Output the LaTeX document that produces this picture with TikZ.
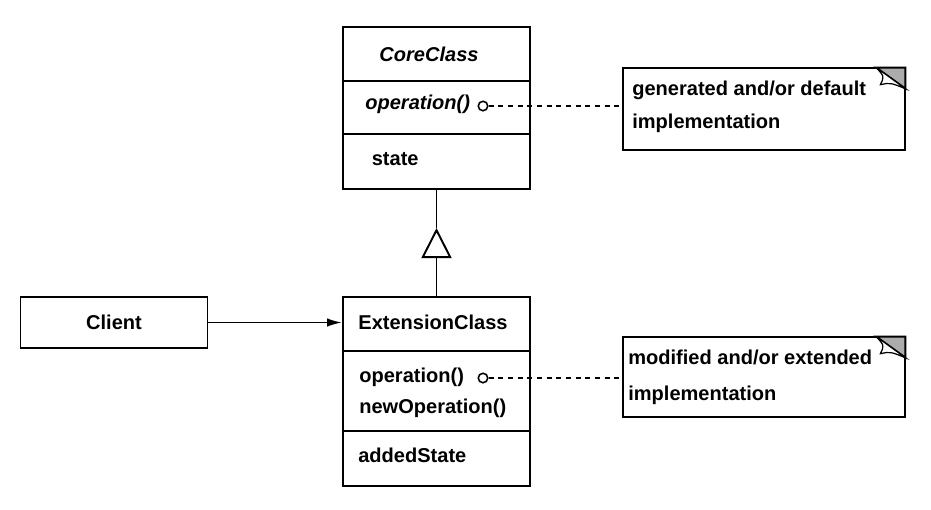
\documentclass[tikz,border=0pt]{standalone}
\usepackage{fontspec}
\setmainfont{Liberation Sans}
\usetikzlibrary{arrows.meta}

\begin{document}
\begin{tikzpicture}[font=\fontsize{11.4}{13}\selectfont\bfseries]
			\tikzstyle{classbox} = [rectangle,draw=black,line width=1.1pt,minimum width=3.74cm,inner sep=0pt]
			\tikzstyle{notebox} = [rectangle,minimum width=5.64cm,minimum height=1.64cm,inner sep=0pt]
			\tikzstyle{label} = [inner sep=0pt,anchor=west]
			\tikzstyle{pin} = [circle,draw=black,fill=white,line width=0.9pt,minimum size=0.19cm,inner sep=0pt]
			\tikzstyle{edge} = [line width=1.1pt]
			\tikzstyle{link} = [line width=0.9pt,dashed,dash pattern=on 3pt off 2.5pt]
			\useasboundingbox (0,0) rectangle (18.62,-10.18);
			\node[classbox,minimum height=3.24cm] (core) at (8.73,-2.16) {};
			\node[classbox,minimum height=3.78cm] (ext) at (8.73,-7.83) {};
			\node[classbox,minimum height=1.02cm] (client) at (2.28,-6.45) {Client};
			\draw[edge] (core.west |- 0,-1.62) -- (core.east |- 0,-1.62);
			\draw[edge] (core.west |- 0,-2.68) -- (core.east |- 0,-2.68);
			\draw[edge] (ext.west |- 0,-7.02) -- (ext.east |- 0,-7.02);
			\draw[edge] (ext.west |- 0,-8.62) -- (ext.east |- 0,-8.62);
			\node[inner sep=0pt] (coretitle) at (8.58,-1.08) {\itshape CoreClass};
			\node[label] (coreop) at (7.30,-2.08) {\itshape operation()};
			\node[label] (corestate) at (7.43,-3.18) {state};
			\node[inner sep=0pt] (exttitle) at (8.66,-6.44) {ExtensionClass};
			\node[label] (extop) at (7.18,-7.54) {operation()};
			\node[label] (extnewop) at (7.18,-8.16) {newOperation()};
			\node[label] (extstate) at (7.16,-9.10) {addedState};
			\node[pin] (corepin) at (9.66,-2.12) {};
			\node[pin] (extpin) at (9.66,-7.56) {};
			\node[notebox] (note1) at (15.28,-2.18) {};
			\node[notebox,minimum height=1.60cm] (note2) at (15.28,-7.54) {};
			\foreach \n in {note1,note2} {
				\draw[edge] (\n.north west) rectangle (\n.south east);
				\filldraw[edge,fill=gray!65] ([xshift=-0.58cm]\n.north east) -- (\n.north east) -- ([yshift=-0.42cm]\n.north east) -- cycle;
				\filldraw[line width=0.7pt,fill=white] ([xshift=-0.58cm]\n.north east) -- ([yshift=-0.42cm]\n.north east) .. controls ([xshift=-0.3cm,yshift=-0.3cm]\n.north east) .. ([xshift=-0.5cm,yshift=-0.34cm]\n.north east) .. controls ([xshift=-0.42cm,yshift=-0.18cm]\n.north east) .. ([xshift=-0.58cm]\n.north east);
			}
			\node[label] (note1a) at (12.64,-1.80) {generated and/or default};
			\node[label] (note1b) at (12.64,-2.46) {implementation};
			\node[label] (note2a) at (12.56,-7.15) {modified and/or extended};
			\node[label] (note2b) at (12.56,-7.90) {implementation};
			\coordinate (apex) at (8.73,-4.56);
			\draw[edge] (core.south) -- (apex);
			\draw[edge,-{Triangle[open,length=0.6cm,width=0.6cm]}] (ext.north) -- (apex);
			\draw[edge,-{Latex[length=0.3cm,width=0.17cm]}] (client.east) -- (client.east -| ext.west);
			\draw[link] (corepin) -- (corepin -| note1.west);
			\draw[link] (extpin) -- (extpin -| note2.west);
			\end{tikzpicture}
\end{document}
